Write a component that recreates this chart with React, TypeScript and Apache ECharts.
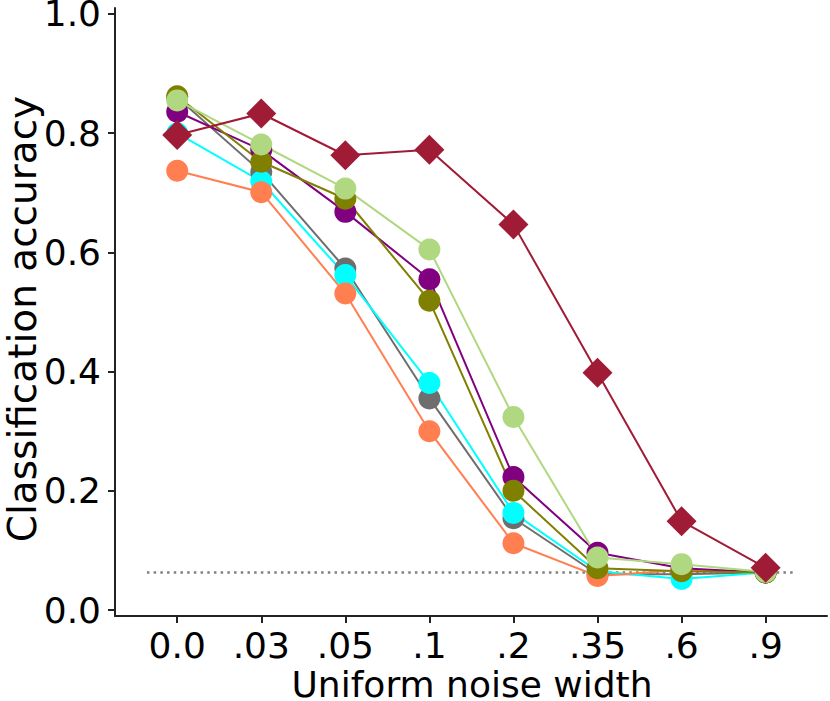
import React, { useEffect, useRef } from "react";
import * as echarts from "echarts";

const categories = ["0.0", ".03", ".05", ".1", ".2", ".35", ".6", ".9"];
const yTicks = [0, 0.2, 0.4, 0.6, 0.8, 1.0];
const chanceLevel = 0.063;
const chanceSpan = [-0.36, 7.36];
const xTitle = "Uniform noise width";
const yTitle = "Classification accuracy";

const grayValues = [0.86, 0.735, 0.573, 0.355, 0.154, 0.06, 0.06, 0.063];
const cyanValues = [0.80, 0.719, 0.562, 0.381, 0.163, 0.065, 0.052, 0.063];
const orangeValues = [0.737, 0.701, 0.531, 0.300, 0.112, 0.057, 0.067, 0.063];
const purpleValues = [0.836, 0.772, 0.668, 0.555, 0.223, 0.096, 0.07, 0.063];
const oliveValues = [0.862, 0.752, 0.69, 0.519, 0.200, 0.07, 0.065, 0.063];
const lightGreenValues = [0.855, 0.781, 0.707, 0.605, 0.324, 0.088, 0.077, 0.064];
const diamondValues = [0.797, 0.833, 0.763, 0.772, 0.647, 0.398, 0.149, 0.071];

const seriesDefs = [
  { name: "gray", color: "#6e6e6e", values: grayValues, symbol: "circle", size: 22 },
  { name: "cyan", color: "#00ffff", values: cyanValues, symbol: "circle", size: 22 },
  { name: "orange", color: "#ff7f50", values: orangeValues, symbol: "circle", size: 22 },
  { name: "purple", color: "#800080", values: purpleValues, symbol: "circle", size: 22 },
  { name: "olive", color: "#808000", values: oliveValues, symbol: "circle", size: 22 },
  { name: "lightgreen", color: "#b0d880", values: lightGreenValues, symbol: "circle", size: 22 },
  { name: "crimson", color: "#a01c36", values: diamondValues, symbol: "diamond", size: 30 },
];

const FONT = "DejaVu Sans";

export default function App() {
  const ref = useRef<HTMLDivElement>(null);
  useEffect(() => {
    if (!ref.current) return;
    const chart = echarts.init(ref.current, null, { renderer: "svg" });
    const series: any[] = seriesDefs.map((s) => ({
      name: s.name,
      type: "line",
      data: s.values.map((v, i) => [i, v]),
      symbol: s.symbol,
      symbolSize: s.size,
      showAllSymbol: true,
      lineStyle: { color: s.color, width: 2 },
      itemStyle: { color: s.color },
      z: 3,
    }));
    series.unshift({
      name: "chance",
      type: "line",
      data: chanceSpan.map((x) => [x, chanceLevel]),
      symbol: "none",
      lineStyle: { color: "#808080", width: 2.5, type: [2.5, 4.2] },
      z: 2,
    });
    chart.setOption({
      animation: false,
      backgroundColor: "#ffffff",
      grid: { left: 115, right: 3, top: 8, bottom: 85, containLabel: false, outerBoundsMode: "none" },
      graphic: [
        {
          type: "text",
          x: 472,
          y: 684,
          style: {
            text: xTitle,
            fontFamily: FONT,
            fontSize: 36,
            lineHeight: 32,
            fill: "#000",
            align: "center",
            verticalAlign: "middle",
          },
        },
        {
          type: "text",
          x: 22,
          y: 319,
          rotation: Math.PI / 2,
          style: {
            text: yTitle,
            fontFamily: FONT,
            fontSize: 39,
            lineHeight: 40,
            fill: "#000",
            align: "center",
            verticalAlign: "middle",
          },
        },
      ],
      xAxis: {
        type: "value",
        min: -0.74,
        max: 7.73,
        axisLine: { show: true, onZero: false, lineStyle: { color: "#222", width: 2 } },
        axisTick: {
          show: true,
          customValues: categories.map((_, i) => i),
          length: 7,
          lineStyle: { color: "#222", width: 2 },
        },
        axisLabel: {
          customValues: categories.map((_, i) => i),
          formatter: (v: number) => categories[Math.round(v)] ?? "",
          fontFamily: FONT,
          fontSize: 36,
          color: "#000",
          margin: 11,
        },
        splitLine: { show: false },
      },
      yAxis: {
        type: "value",
        min: -0.01,
        max: 1.01,
        axisLine: { show: true, onZero: false, lineStyle: { color: "#222", width: 2 } },
        axisTick: {
          show: true,
          customValues: yTicks,
          length: 7,
          lineStyle: { color: "#222", width: 2 },
        },
        axisLabel: {
          customValues: yTicks,
          formatter: (v: number) => v.toFixed(1),
          fontFamily: FONT,
          fontSize: 36,
          lineHeight: 28,
          color: "#000",
          margin: 14,
        },
        splitLine: { show: false },
      },
      series,
    });
    return () => chart.dispose();
  }, []);
  return (
    <div
      ref={ref}
      style={{ position: "fixed", left: 0, top: 0, width: 830, height: 701 }}
    />
  );
}
